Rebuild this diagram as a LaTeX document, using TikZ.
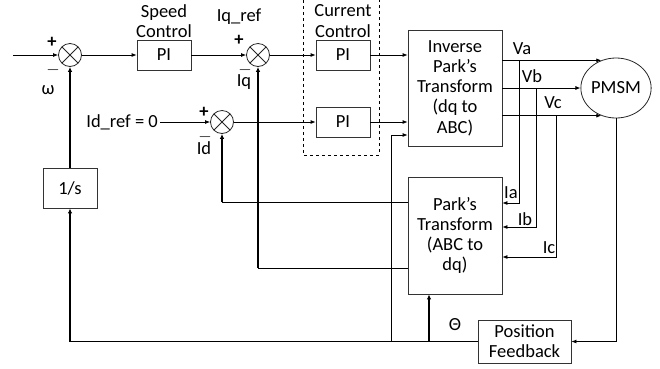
\documentclass[tikz,border=0pt]{standalone}
\usepackage{fontspec}
\setmainfont{Carlito}
\usetikzlibrary{arrows.meta, shapes.geometric, positioning}

\begin{document}
\begin{tikzpicture}[
  x=1pt, y=-1pt,
  font=\fontsize{18.5}{20.3}\selectfont,
  block/.style={draw=black!80, line width=0.8pt, align=center, inner sep=1pt},
  sumnode/.style={
    circle, draw=black!85, line width=0.8pt, minimum size=23pt, inner sep=0pt,
    path picture={\draw[line width=0.8pt]
      (path picture bounding box.north west) -- (path picture bounding box.south east)
      (path picture bounding box.north east) -- (path picture bounding box.south west);}
  },
  lbl/.style={inner sep=0pt, align=center},
  wire/.style={line width=0.8pt},
  arr/.style={wire, -{Latex[length=5pt, width=4pt]}},
  boldarr/.style={line width=1.6pt, -{Latex[length=5pt, width=4.5pt]}},
]
\useasboundingbox (0,0) rectangle (660,368);

% summing points and blocks
\node[sumnode] (sum1) at (70,55) {};
\node[sumnode] (sum2) at (258,55) {};
\node[sumnode] (sum3) at (222,122) {};
\node[block, minimum width=54pt, minimum height=30pt] (speedpi) at (164,55) {PI};
\node[block, minimum width=54pt, minimum height=30pt] (curpiq) at (343,55) {PI};
\node[block, minimum width=54pt, minimum height=30pt] (curpid) at (343,122) {PI};
\node[block, minimum width=54pt, minimum height=40pt] (integ) at (70,188) {1/s};
\node[block, minimum width=94pt, minimum height=116pt] (invpark) at (455,88)
  {Inverse\\Park’s\\Transform\\(dq to\\ABC)};
\node[block, minimum width=94pt, minimum height=117pt] (park) at (455,235.5)
  {Park’s\\Transform\\(ABC to\\dq)};
\node[ellipse, draw=black!85, line width=0.8pt, minimum width=67pt, minimum height=60pt,
  inner sep=0pt] (pmsm) at (616,88) {PMSM};
\node[block, minimum width=93pt, minimum height=43pt] (posfb) at (524.5,341.5)
  {Position\\Feedback};

% current controller frame
\draw[wire, dashed] (303,0) |- (379,155) -- (379,0);

% texts
\node[lbl] (speedlbl) at (164,21) {Speed\\Control};
\node[lbl] (curlbl) at (343,21) {Current\\Control};
\node[lbl] (iqref) at (239,17) {Iq\_ref};
\node[lbl, anchor=east] (idref) at (158,122) {Id\_ref = 0};
\node[lbl] (plus1) at (52,42) {\textbf{+}};
\node[lbl] (minus1) at (53,70) {$-$};
\node[lbl] (omega) at (48,90) {ω};
\node[lbl] (plus2) at (239,40) {\textbf{+}};
\node[lbl] (minus2) at (245,70) {$-$};
\node[lbl] (iq) at (244,82) {Iq};
\node[lbl] (plus3) at (204,112) {\textbf{+}};
\node[lbl] (minus3) at (205,137) {$-$};
\node[lbl] (id) at (204,148) {Id};
\node[lbl] (va) at (522,49) {Va};
\node[lbl] (vb) at (532,76) {Vb};
\node[lbl] (vc) at (553,103) {Vc};
\node[lbl] (ia) at (511,193) {Ia};
\node[lbl] (ib) at (525,219) {Ib};
\node[lbl] (ic) at (549,248) {Ic};
\node[lbl] (theta) at (455,325) {Θ};

% forward path
\coordinate (in) at (13,55);
\draw[arr] (in) -- (sum1.west);
\draw[arr] (sum1.east) -- (speedpi.west);
\draw[arr] (speedpi.east) -- (sum2.west);
\draw[arr] (sum2.east) -- (curpiq.west);
\draw[arr] (curpiq.east) -- (curpiq.east -| invpark.west);
\draw[arr] ([xshift=2pt]idref.east) -- (sum3.west);
\draw[arr] (sum3.east) -- (curpid.west);
\draw[arr] (curpid.east) -- (curpid.east -| invpark.west);
\draw[arr] (invpark.east |- pmsm.118) -- (pmsm.118);
\draw[arr] (invpark.east) -- (pmsm.west);
\draw[arr] (invpark.east |- pmsm.242) -- (pmsm.242);

% phase currents
\coordinate (tapa) at (519,61);
\coordinate (tapb) at (536,88);
\coordinate (tapc) at (556,115);
\draw[arr] (tapa) |- ([yshift=32.5pt]park.east);
\draw[arr] (tapb) |- ([yshift=8.5pt]park.east);
\draw[arr] (tapc) |- ([yshift=-21.5pt]park.east);

% dq feedback
\coordinate (fbd) at ([yshift=33.5pt]park.west);
\coordinate (fbq) at ([yshift=-32.5pt]park.west);
\draw[wire] (fbd) -- (fbd -| sum3);
\draw[boldarr] (fbd -| sum3) -- (sum3.south);
\draw[wire] (fbq) -- (fbq -| sum2);
\draw[boldarr] (fbq -| sum2) -- (sum2.south);

% position / speed feedback
\draw[arr] (pmsm.south) |- (posfb.east);
\coordinate (thc) at (posfb.west -| integ);
\draw[wire] (posfb.west) -- (thc);
\draw[boldarr] (thc) -- (integ.south);
\draw[boldarr] (integ.north) -- (sum1.south);
\coordinate (parkin) at ([xshift=-26pt]park.south);
\draw[boldarr] (parkin |- posfb.west) -- (parkin);
\coordinate (invin) at ([yshift=-47pt]invpark.west);
\coordinate (thb) at (391,341.5);
\draw[arr] (thb) |- (invin);

\end{tikzpicture}
\end{document}
